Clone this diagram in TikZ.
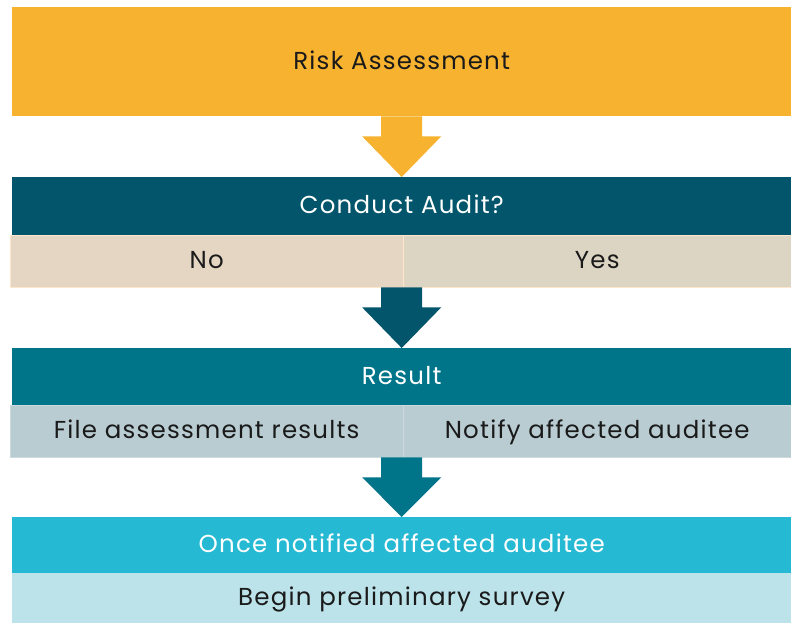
\documentclass[tikz,border=0pt]{standalone}
\usepackage{fontspec}
\setmainfont{Poppins}[LetterSpace=5]
\usepackage{tikz}
\usetikzlibrary{calc,positioning}
\definecolor{ambx}{HTML}{F7B32F}
\definecolor{deepx}{HTML}{02556A}
\definecolor{tealx}{HTML}{00758A}
\definecolor{cyanx}{HTML}{25B9D3}
\definecolor{sandx}{HTML}{E5D6C4}
\definecolor{sandy}{HTML}{DDD5C3}
\definecolor{peachx}{HTML}{FCE6CC}
\definecolor{slatex}{HTML}{B8CCD2}
\definecolor{slateb}{HTML}{CCDADE}
\definecolor{icex}{HTML}{BCE2EA}
\definecolor{inkx}{HTML}{1A1A1A}
\tikzset{
  txt/.style={anchor=north west,inner sep=0pt,text height=1.55em,text depth=0.05em,font=\fontsize{24.5}{28}\selectfont},
  head/.style={txt,minimum width=779pt,text=white},
  cell/.style={txt,minimum width=393pt,text=inkx},
  wide/.style={txt,minimum width=779pt,text=inkx}
}
\newcommand{\flowarrow}[3]{%
  \fill[#3] ($(#1)+(-20.5,0)$) -- ($(#1)+(-20.5,20)$) -- ($(#1)+(-39.5,20)$)
    -- (#2.north) -- ($(#1)+(39.5,20)$) -- ($(#1)+(20.5,20)$) -- ($(#1)+(20.5,0)$) -- cycle;}

\begin{document}
\begin{tikzpicture}[x=1pt,y=-1pt]
\useasboundingbox[fill=white] (0,0) rectangle (791,623);
% top box
\node[head,fill=ambx,text=inkx,minimum height=109pt] (risk) at (12,7) {Risk Assessment};
% audit decision
\node[head,fill=deepx,minimum height=58pt] (audit) at (12,177) {Conduct Audit?};
\node[cell,fill=sandx,draw=peachx,minimum height=52pt] (no) at (10,235) {No};
\node[cell,fill=sandy,draw=peachx,minimum width=388pt,minimum height=52pt] (yes) at (403,235) {Yes};
% result
\node[head,fill=tealx,minimum height=57pt] (result) at (12,348) {Result};
\node[cell,fill=slatex,draw=slateb,minimum height=52pt] (file) at (10,405) {File assessment results};
\node[cell,fill=slatex,draw=slateb,minimum width=388pt,minimum height=52pt] (notify) at (403,405) {Notify affected auditee};
% notified
\node[head,fill=cyanx,minimum height=56pt] (once) at (12,517) {Once notified affected auditee};
\node[wide,fill=icex,minimum height=50pt] (survey) at (12,573) {Begin preliminary survey};
% arrow roots
\coordinate (rootA) at (risk.south);
\coordinate (rootB) at (audit.south|-no.south);
\coordinate (rootC) at (result.south|-file.south);
% arrows
\flowarrow{rootA}{audit}{ambx}
\flowarrow{rootB}{result}{deepx}
\flowarrow{rootC}{once}{tealx}
\end{tikzpicture}
\end{document}
